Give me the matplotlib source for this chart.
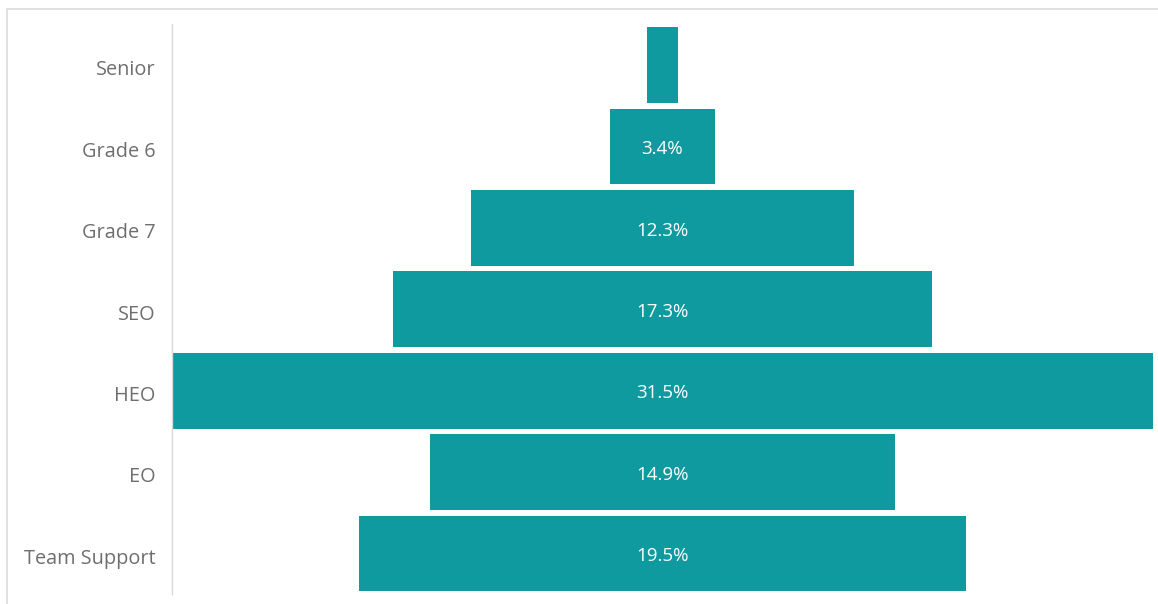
import matplotlib.pyplot as plt
from matplotlib.patches import Rectangle
from matplotlib.transforms import ScaledTranslation

# Funnel of staff grades (share of headcount, %)
grades = ['Senior', 'Grade 6', 'Grade 7', 'SEO', 'HEO', 'EO', 'Team Support']
shares = [1.0, 3.4, 12.3, 17.3, 31.5, 14.9, 19.5]

bar_color = '#0F9AA0'
plt.rcParams['font.family'] = ['Open Sans', 'DejaVu Sans']

fig = plt.figure(figsize=(11.58, 6.04), dpi=100)
ax = fig.add_axes([172 / 1158, 9.8 / 604, 981 / 1158, 569.9 / 604])
down = ScaledTranslation(0, -2 / 72, fig.dpi_scale_trans)

# Bars centred on zero
ypos = list(range(len(grades)))
lefts = [-s / 2 for s in shares]
ax.barh(ypos, shares, left=lefts, height=0.93, color=bar_color)

for y, s in zip(ypos, shares):
    if s >= 2:
        ax.text(0, y, f'{s:.1f}%', ha='center', va='center', color='white',
                fontsize=13.5, transform=ax.transData + down)

ax.set_xlim(-15.75, 15.75)
ax.set_ylim(len(grades) - 0.5, -0.5)
ax.set_yticks(ypos)
ax.set_yticklabels(grades, fontsize=14.3, color='#6e6e6e')
ax.tick_params(axis='y', length=0, pad=12)
for lbl in ax.get_yticklabels():
    lbl.set_transform(lbl.get_transform() + down)
ax.set_xticks([])
for side in ['top', 'right', 'bottom']:
    ax.spines[side].set_visible(False)
ax.spines['left'].set_color('#d9d9d9')
ax.spines['left'].set_linewidth(1)

# light frame around the visual
fig.patches.append(Rectangle((7 / 1158, -0.01), 1.2, (604 - 9) / 604 + 0.01,
                             transform=fig.transFigure, fill=False,
                             edgecolor='#dcdcdc', linewidth=1.2))

fig.savefig('out.png', dpi=100)
